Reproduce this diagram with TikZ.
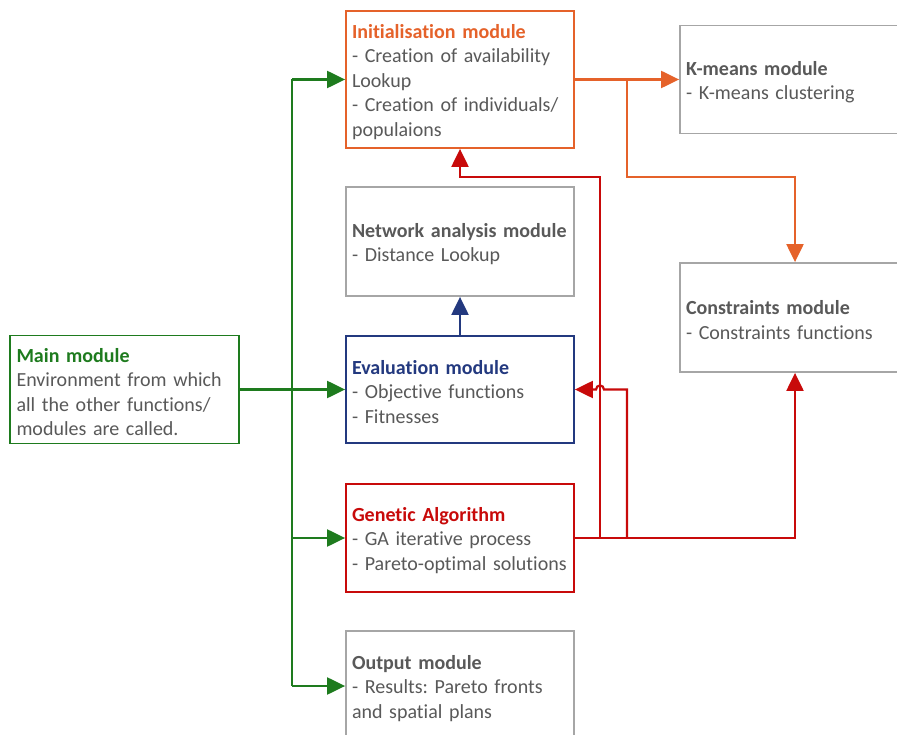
\documentclass[tikz,border=0pt]{standalone}
\usepackage{fontspec}
\setmainfont{Carlito}[Ligatures={NoCommon}]
\usetikzlibrary{arrows.meta}

\definecolor{orng}{HTML}{E5622A}
\definecolor{grn}{HTML}{1E7B1E}
\definecolor{navy}{HTML}{23397F}
\definecolor{rd}{HTML}{C80A0A}
\definecolor{edgegray}{HTML}{A6A6A6}
\definecolor{txtgray}{HTML}{595959}

% bold module title, with a strut that sets the first line a little lower
\newcommand{\modtitle}[2][txtgray]{\rule{0pt}{19pt}{\bfseries\color{#1}#2}}

\begin{document}
\frenchspacing
\begin{tikzpicture}[x=1pt, y=-1pt,
  modbox/.style={draw=edgegray, line width=1.8pt, fill=white,
    text width=#1, align=left, inner xsep=6pt, inner ysep=0pt,
    font=\fontsize{20}{24.4}\selectfont, text=txtgray},
  modbox/.default=216pt,
  conn/.style={line width=2.2pt},
  tip/.style={-{Triangle[length=18pt,width=17pt]}}
]
\useasboundingbox (0,0) rectangle (897,735);
\clip (0,0) rectangle (897,735);

% modules
\node[modbox, draw=orng, minimum width=228pt, minimum height=137pt] (init) at (460,79.5)
  {\modtitle[orng]{Initialisation module}\\- Creation of availability\\Lookup\\- Creation of individuals/\\populaions};
\node[modbox=218pt, minimum width=230pt, minimum height=108pt] (kmeans) at (795,79.5)
  {\modtitle{K-means module}\\- K-means clustering};
\node[modbox, minimum width=228pt, minimum height=109pt] (network) at (460,241.5)
  {\modtitle{Network analysis module}\\- Distance Lookup};
\node[modbox=218pt, minimum width=230pt, minimum height=109pt] (constr) at (795,317.5)
  {\modtitle{Constraints module}\\- Constraints functions};
\node[modbox, draw=grn, minimum width=229pt, minimum height=108pt] (main) at (124.5,389.5)
  {\modtitle[grn]{Main module}\\Environment from which\\all the other functions/\\modules are called.};
\node[modbox, draw=navy, minimum width=228pt, minimum height=107pt] (eval) at (460,389.5)
  {\modtitle[navy]{Evaluation module}\\- Objective functions\\- Fitnesses};
\node[modbox, draw=rd, minimum width=228pt, minimum height=108pt] (ga) at (460,538)
  {\modtitle[rd]{Genetic Algorithm}\\- GA iterative process\\- Pareto-optimal solutions};
\node[modbox, minimum width=228pt, minimum height=110pt] (output) at (460,686)
  {\modtitle{Output module}\\- Results: Pareto fronts\\and spatial plans};

% main module calls (green bus)
\coordinate (bus) at (292,0);
\draw[conn, draw=grn] (bus |- init.west) -- (bus |- output.west);
\draw[conn, draw=grn, tip] (main.east) -- (eval.west);
\draw[conn, draw=grn, tip] (bus |- init.west) -- (init.west);
\draw[conn, draw=grn, tip] (bus |- ga.west) -- (ga.west);
\draw[conn, draw=grn, tip] (bus |- output.west) -- (output.west);

% initialisation outputs (orange)
\coordinate (obranch) at (627,0);
\draw[conn, draw=orng, tip] (init.east) -- (kmeans.west);
\draw[conn, draw=orng, tip] (obranch |- init.east) -- (627,177) -| (constr.north);

% evaluation uses network analysis (blue)
\draw[conn, draw=navy, tip] (eval.north) -- (network.south);

% genetic algorithm calls (red)
\draw[conn, draw=rd, tip] (ga.east) -| (constr.south);
\draw[conn, draw=rd, tip] (600,538) -- (600,177) -| (init.south);
\draw[conn, draw=rd, tip] (627,538) -- (627,389.5) -- (604,389.5)
  .. controls (604,384.2) and (596,384.2) .. (596,389.5) -- (eval.east);
\end{tikzpicture}
\end{document}
